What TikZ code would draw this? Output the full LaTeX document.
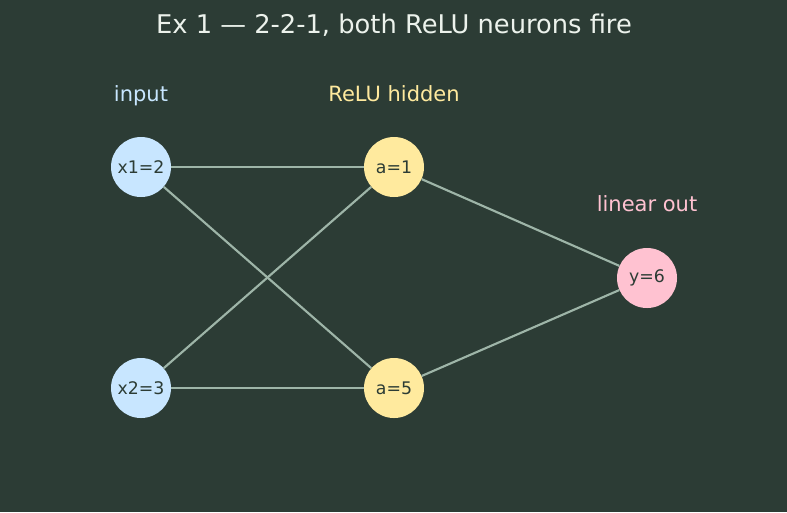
\documentclass[tikz,border=0pt]{standalone}
\usepackage{fontspec}
\setmainfont{DejaVu Sans}
\definecolor{BoardGreen}{RGB}{44,60,53}
\definecolor{InBlue}{RGB}{200,230,255}
\definecolor{HidYellow}{RGB}{255,234,158}
\definecolor{OutPink}{RGB}{255,194,209}
\definecolor{WireGray}{RGB}{158,181,168}
\definecolor{TitleWhite}{RGB}{236,242,236}
\usetikzlibrary{positioning}

\begin{document}
\begin{tikzpicture}[x=0.75pt, y=-0.75pt,
      every node/.style={align=center},
      unit/.style={circle, minimum size=45pt, inner sep=0pt, text=BoardGreen,
                   font=\fontsize{13}{15}\selectfont},
      inunit/.style={unit, fill=InBlue},
      hidunit/.style={unit, fill=HidYellow},
      outunit/.style={unit, fill=OutPink},
      layername/.style={anchor=base, font=\fontsize{15.75}{18}\selectfont},
      wire/.style={draw=WireGray, line width=1.6pt}
  ]
    \fill[BoardGreen] (0,0) rectangle (787,512);
    \node[text=TitleWhite, font=\fontsize{19.3}{22}\selectfont] (title) at (394,25) {Ex 1 — 2-2-1, both ReLU neurons fire};
    % layer names
    \node[layername, text=InBlue] (lin) at (141,101) {input};
    \node[layername, text=HidYellow] (lhid) at (394,101) {ReLU hidden};
    \node[layername, text=OutPink] (lout) at (647,211) {linear out};
    % neurons
    \node[inunit] (x1) at (141,167) {x1=2};
    \node[inunit] (x2) at (141,388) {x2=3};
    \node[hidunit] (h1) at (394,167) {a=1};
    \node[hidunit] (h2) at (394,388) {a=5};
    \node[outunit] (y) at (647,278) {y=6};
    % connections
    \foreach \a in {x1,x2}
      \foreach \b in {h1,h2}
        \draw[wire] (\a) -- (\b);
    \draw[wire] (h1) -- (y);
    \draw[wire] (h2) -- (y);
  \end{tikzpicture}
\end{document}
